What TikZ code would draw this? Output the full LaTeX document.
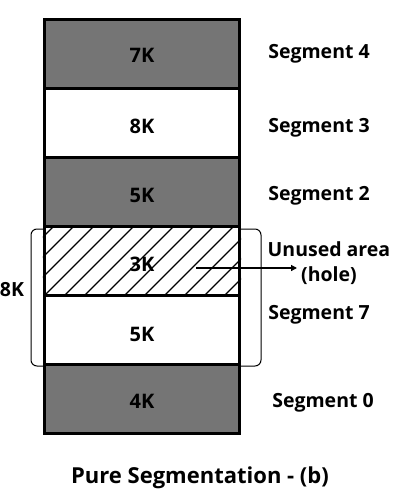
\documentclass[tikz,border=0pt]{standalone}
\usepackage{fontspec}
\setmainfont{Open Sans}
\usetikzlibrary{arrows.meta}
\definecolor{seggray}{RGB}{117,117,117}
\begin{document}
\begin{tikzpicture}[x=1pt,y=-1pt,
  cell/.style={draw=black,line width=3.3pt,minimum width=195pt,minimum height=69pt,inner sep=0pt,anchor=center},
  full/.style={cell,fill=seggray},
  free/.style={cell,fill=white},
  num/.style={font=\fontsize{20}{22}\selectfont\bfseries,anchor=base,inner sep=0pt},
  lab/.style={font=\fontsize{19.5}{22}\selectfont\bfseries,anchor=base,inner sep=0pt},
  title/.style={font=\fontsize{22}{25}\selectfont\bfseries,anchor=base,inner sep=0pt},
  hatch/.style={line width=1.1pt},
  brace/.style={draw=black,line width=1pt,rounded corners=6pt}]
\useasboundingbox (0,0) rectangle (400,500);
% bracket around the 8K block
\draw[brace] (31,229) rectangle (261,366);
% cells
\node[full] (c7) at (142,54) {};
\node[free] (c8) at (142,123) {};
\node[full] (c5) at (142,192) {};
\node[free] (c3) at (142,261) {};
\begin{scope}
  \clip (c3.south west) rectangle (c3.north east);
  \foreach \i in {-10,...,12}
    \draw[hatch] (44.5+20*\i,295.5) -- ++(68,-68);
\end{scope}
\node[cell,fill=none] (c3b) at (142,261) {};
\node[free] (c57) at (142,330) {};
\node[full] (c4) at (142,399) {};
% numbers
\node[num] (t7) at (142,63) {7K};
\node[num] (t8) at (142,133) {8K};
\node[num] (t5) at (142,202) {5K};
\node[num] (t3) at (142,271) {3K};
\node[num] (t57) at (142,341) {5K};
\node[num] (t4) at (142,408) {4K};
% labels
\node[lab] (s4) at (319,59) {Segment 4};
\node[lab] (s3) at (319,132) {Segment 3};
\node[lab] (s2) at (319,200) {Segment 2};
\node[lab] (ua) at (329,256) {Unused area};
\node[lab] (hole) at (329,281) {(hole)};
\node[lab] (s7) at (319,319) {Segment 7};
\node[lab] (s0) at (323,407) {Segment 0};
\node[lab] (k8) at (12,296) {8K};
\node[title] (ttl) at (200,483) {Pure Segmentation - (b)};
% arrow
\coordinate (hs) at (196,268);
\coordinate (he) at (297,268);
\draw[line width=1.3pt,-{Triangle[length=6pt,width=6pt]}] (hs) -- (he);
\end{tikzpicture}
\end{document}
